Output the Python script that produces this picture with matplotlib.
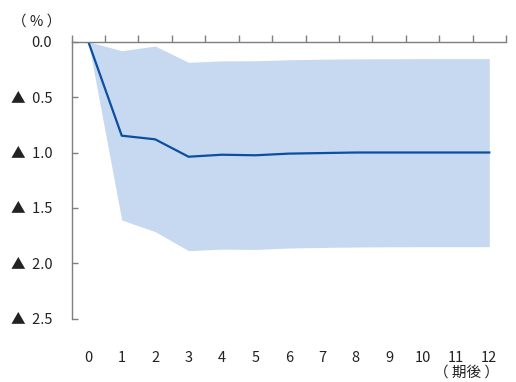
import numpy as np
import matplotlib
matplotlib.use("Agg")
import matplotlib.pyplot as plt
from matplotlib.ticker import FuncFormatter, MultipleLocator

plt.rcParams['font.family'] = ['Noto Sans CJK JP', 'DejaVu Sans']

# data (%), negative = decline
periods = [0, 1, 2, 3, 4, 5, 6, 7, 8, 9, 10, 11, 12]
response = [0.0, -0.848, -0.881, -1.038, -1.020, -1.025, -1.010, -1.005, -1.000, -1.000, -1.000, -1.000, -1.000]
upper = [0.0, -0.081, -0.039, -0.186, -0.173, -0.172, -0.163, -0.158, -0.155, -0.154, -0.153, -0.153, -0.153]
lower = [0.0, -1.609, -1.714, -1.886, -1.872, -1.875, -1.862, -1.857, -1.853, -1.851, -1.850, -1.850, -1.850]

fig = plt.figure(figsize=(5.16, 3.82), dpi=100)
ax = fig.add_axes([0.1388, 0.1657, 0.8418, 0.7251])

ax.fill_between(periods, lower, upper, color="#C6D9F1", linewidth=0)
ax.plot(periods, response, color="#0B4EA2", lw=1.6)

ax.set_xlim(-0.5, 12.5)
ax.set_ylim(-2.5, 0)

for s in ["right", "bottom"]:
    ax.spines[s].set_visible(False)
for s in ["left", "top"]:
    ax.spines[s].set_color("#7f7f7f")
    ax.spines[s].set_linewidth(1.0)

# x: labels low, boundary ticks on the zero line
ax.set_xticks(periods)
ax.set_xticks(np.arange(-0.5, 13, 1), minor=True)
ax.tick_params(axis="x", which="major", bottom=True, top=False, length=0,
               pad=23, labelsize=10.5, labelcolor="#222222")
ax.tick_params(axis="x", which="minor", bottom=False, top=True, direction="out",
               length=5, width=1.0, color="#7f7f7f")

# y
ax.yaxis.set_major_locator(MultipleLocator(0.5))
def fmt(v, pos):
    if abs(v) < 1e-9:
        return "0.0"
    return "▲  %.1f" % abs(v)
ax.yaxis.set_major_formatter(FuncFormatter(fmt))
ax.tick_params(axis="y", direction="in", length=4.5, width=1.0, color="#7f7f7f",
               pad=14, labelsize=10.5, labelcolor="#222222")

fig.text(37 / 516, 1 - 21.7 / 382, "（ % ）", ha="center", va="center", fontsize=10.5, color="#222222")
fig.text(467 / 516, 1 - 373 / 382, "（ 期後 ）", ha="center", va="center", fontsize=10.5, color="#222222")

fig.savefig("out.png", dpi=100)
